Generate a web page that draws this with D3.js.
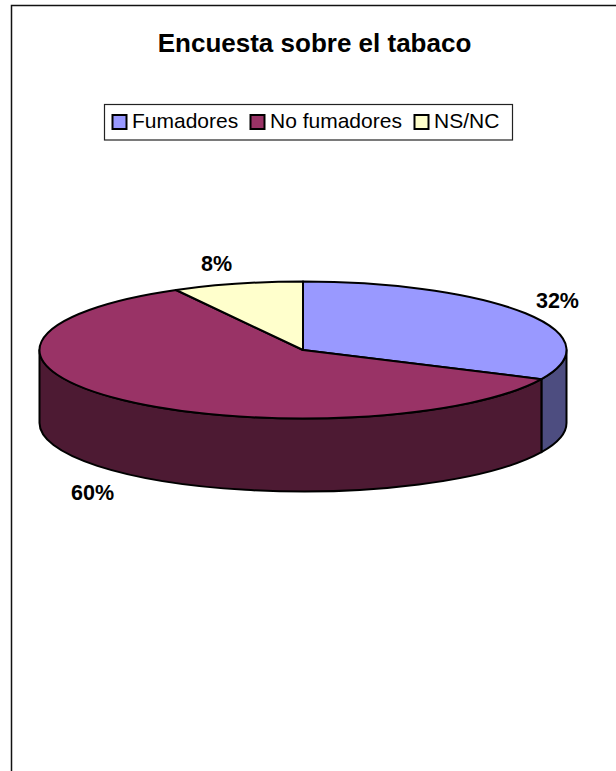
<!DOCTYPE html>
<html>
<head>
<meta charset="utf-8">
<script src="https://cdn.jsdelivr.net/npm/d3@7"></script>
<style>
    html, body { margin: 0; padding: 0; background: #fff; }
    svg { display: block; }
    text { font-family: "Liberation Sans", Arial, sans-serif; fill: #000; }
</style>
</head>
<body>
<div id="chart"></div>
<script>
var categories = ["Fumadores", "No fumadores", "NS/NC"];
var values = [32, 60, 8];
var topColors = ["#9999FF", "#993366", "#FFFFCC"];
var sideColors = ["#4D4D80", "#4D1A33", "#808066"];

var width = 616, height = 771;
var cx = 303, cy = 350, rx = 263.5, ry = 68.5, depth = 73;

var svg = d3.select("#chart").append("svg")
    .attr("width", width)
    .attr("height", height);

// page frame, only left and top show up in the crop
svg.append("path")
    .attr("d", "M11.5," + height + "V5.5H" + width)
    .attr("fill", "none")
    .attr("stroke", "#111")
    .attr("stroke-width", 1.5);

svg.append("text")
    .attr("x", 314.5).attr("y", 52)
    .attr("text-anchor", "middle")
    .style("font-size", "26px")
    .style("font-weight", "bold")
    .text("Encuesta sobre el tabaco");

// legend
var legend = svg.append("g");
legend.append("rect")
    .attr("x", 104.5).attr("y", 104.5)
    .attr("width", 408).attr("height", 35.5)
    .attr("fill", "#fff").attr("stroke", "#222").attr("stroke-width", 1.2);

var legendX = [112, 250, 414];
categories.forEach(function (c, i) {
    legend.append("rect")
        .attr("x", legendX[i] + 0.5).attr("y", 115)
        .attr("width", 14).attr("height", 14)
        .attr("fill", topColors[i])
        .attr("stroke", "#000").attr("stroke-width", 2);
    legend.append("text")
        .attr("x", legendX[i] + 20).attr("y", 128)
        .style("font-size", "21px")
        .text(c);
});

// pie angles, clockwise from 12 o'clock
var slices = d3.pie().sort(null)(values);

function px(a) { return cx + rx * Math.sin(a); }
function py(a) { return cy - ry * Math.cos(a); }

// side wall: only the part of the rim in the front half
var front0 = Math.PI / 2, front1 = Math.PI * 1.5;
var g = svg.append("g").attr("stroke", "#000").attr("stroke-width", 2).attr("stroke-linejoin", "round");

slices.forEach(function (s, i) {
    var a0 = Math.max(s.startAngle, front0), a1 = Math.min(s.endAngle, front1);
    if (a1 <= a0) return;
    var d = "M" + px(a0) + "," + py(a0)
        + "A" + rx + "," + ry + " 0 0 1 " + px(a1) + "," + py(a1)
        + "V" + (py(a1) + depth)
        + "A" + rx + "," + ry + " 0 0 0 " + px(a0) + "," + (py(a0) + depth)
        + "Z";
    g.append("path").attr("d", d).attr("fill", sideColors[i]);
});

// top face
slices.forEach(function (s, i) {
    var large = s.endAngle - s.startAngle > Math.PI ? 1 : 0;
    var d = "M" + cx + "," + cy
        + "L" + px(s.startAngle) + "," + py(s.startAngle)
        + "A" + rx + "," + ry + " 0 " + large + " 1 " + px(s.endAngle) + "," + py(s.endAngle)
        + "Z";
    g.append("path").attr("d", d).attr("fill", topColors[i]);
});

// percent labels, nudged off the pie by hand
var labelNudge = [[32, -11], [-30, 94], [-21, -19]];
slices.forEach(function (s, i) {
    var mid = (s.startAngle + s.endAngle) / 2;
    svg.append("text")
        .attr("x", px(mid) + labelNudge[i][0])
        .attr("y", py(mid) + labelNudge[i][1] + 6)
        .attr("text-anchor", "middle")
        .style("font-size", "21.5px")
        .style("font-weight", "bold")
        .text(d3.format(".0%")(s.value / d3.sum(values)));
});
</script>
</body>
</html>
